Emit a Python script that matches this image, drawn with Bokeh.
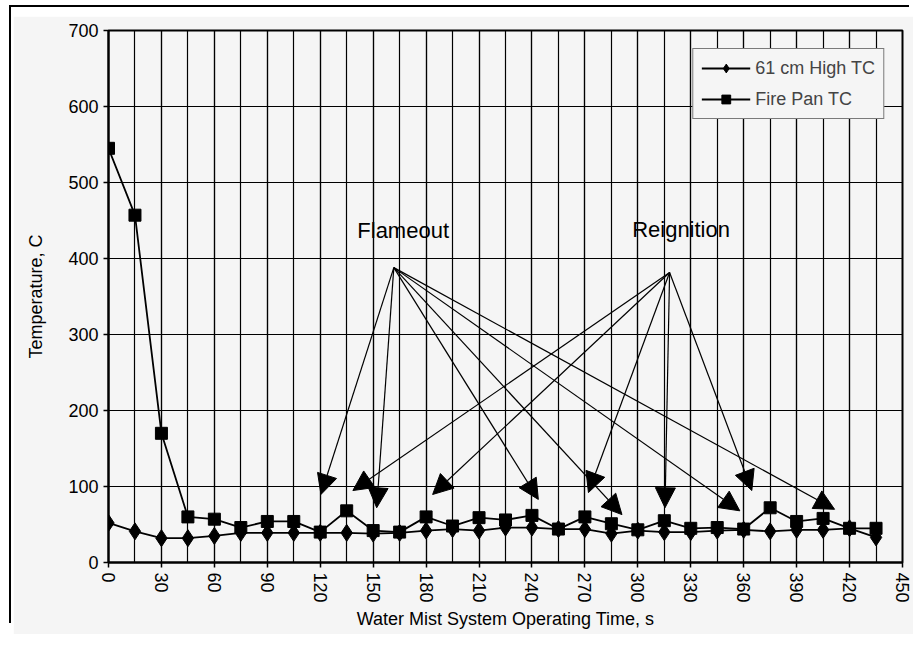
from bokeh.plotting import figure
from bokeh.models import FixedTicker, Arrow, NormalHead, ColumnDataSource, Range1d
from bokeh.embed import file_html
from bokeh.resources import INLINE
from bokeh.core.properties import value

# ---- data ----
time_s = [0, 15, 30, 45, 60, 75, 90, 105, 120, 135, 150, 165, 180, 195, 210,
          225, 240, 255, 270, 285, 300, 315, 330, 345, 360, 375, 390, 405, 420, 435]
high_tc = [52, 41, 32, 32, 35, 39, 39, 39, 39, 39, 38, 39, 42, 44, 42,
           46, 46, 44, 44, 38, 42, 40, 40, 42, 43, 41, 43, 43, 45, 33]
pan_tc = [545, 457, 170, 60, 57, 46, 54, 54, 40, 68, 42, 40, 60, 48, 59,
          56, 62, 44, 60, 51, 43, 55, 45, 46, 44, 72, 54, 58, 45, 45]

x_ticks = [0, 30, 60, 90, 120, 150, 180, 210, 240, 270, 300, 330, 360, 390, 420, 450]
x_minor = [0, 15, 30, 45, 60, 75, 90, 105, 120, 135, 150, 165, 180, 195, 210, 225,
           240, 255, 270, 285, 300, 315, 330, 345, 360, 375, 390, 405, 420, 435, 450]
y_ticks = [0, 100, 200, 300, 400, 500, 600, 700]

note_text = ["Flameout", "Reignition"]
note_x = [167, 324.5]
note_y = [437, 438]

flameout_apex = [161.7, 388]
flameout_tx = [120.4, 152, 243.6, 291, 357.8, 411.5]
flameout_ty = [89.5, 72, 83, 63, 68, 70]
reignition_apex = [318, 381.5]
reignition_tx = [138.5, 183.7, 272, 315.4, 364.6]
reignition_ty = [94.7, 89.5, 92, 72, 94.7]

BG = "#f5f5f5"
FONT = "Liberation Sans"

p = figure(width=900, height=618, x_range=Range1d(0, 450), y_range=Range1d(0, 700),
           output_backend="svg", toolbar_location=None,
           min_border_left=95, min_border_right=11, min_border_top=14, min_border_bottom=72,
           background_fill_color=BG, border_fill_color=BG)
# thin black edge lines of the scanned sheet (top and left), with a white gap
p.styles = {"margin-top": "16px", "margin-left": "13px",
            "box-shadow": "-2px -9px 0 0 white, -4px -11px 0 0 black"}

p.outline_line_color = "black"
p.outline_line_width = 2

p.xaxis.ticker = FixedTicker(ticks=x_ticks, minor_ticks=x_minor)
p.yaxis.ticker = FixedTicker(ticks=y_ticks)

for g in (p.xgrid, p.ygrid):
    g.grid_line_color = "black"
    g.grid_line_width = 1.2
p.xgrid.minor_grid_line_color = "black"
p.xgrid.minor_grid_line_width = 1.2

for ax in (p.xaxis, p.yaxis):
    ax.axis_line_color = "black"
    ax.axis_line_width = 2
    ax.major_tick_line_color = "black"
    ax.major_tick_line_width = 1.5
    ax.major_tick_out = 5
    ax.major_tick_in = 0
    ax.minor_tick_line_color = None
    ax.major_label_text_font = FONT
    ax.major_label_text_font_size = "18px"
    ax.major_label_text_color = "black"
    ax.axis_label_text_font = FONT
    ax.axis_label_text_font_size = "18px"
    ax.axis_label_text_font_style = "normal"
    ax.axis_label_text_color = "black"
    ax.major_label_standoff = 5

p.xaxis.major_label_orientation = "vertical"
p.xaxis.axis_label = "Water Mist System Operating Time, s"
p.xaxis.axis_label_standoff = 3
p.yaxis.axis_label = "Temperature, C"
p.yaxis.axis_label_standoff = 19

# series
p.line(time_s, high_tc, line_color="black", line_width=1.8, legend_label="61 cm High TC")
p.scatter(time_s, high_tc, marker="diamond", size=17, fill_color="black",
          line_color="black", legend_label="61 cm High TC")
p.line(time_s, pan_tc, line_color="black", line_width=1.8, legend_label="Fire Pan TC")
p.scatter(time_s, pan_tc, marker="square", size=12, fill_color="black",
          line_color="black", legend_label="Fire Pan TC")

# annotation arrows
xs = [flameout_apex[0]] * len(flameout_tx) + [reignition_apex[0]] * len(reignition_tx)
ys = [flameout_apex[1]] * len(flameout_tx) + [reignition_apex[1]] * len(reignition_tx)
xe = flameout_tx + reignition_tx
ye = flameout_ty + reignition_ty
arrow_src = ColumnDataSource(dict(xs=xs, ys=ys, xe=xe, ye=ye))
p.add_layout(Arrow(end=NormalHead(size=20, fill_color="black", line_color="black"),
                   x_start="xs", y_start="ys", x_end="xe", y_end="ye",
                   source=arrow_src, line_color="black", line_width=1.2))

p.text(x=note_x, y=note_y, text=note_text, text_font=value(FONT),
       text_font_size=value("22px"), text_align="center", text_baseline="middle",
       text_color="black")

lg = p.legend[0]
lg.location = "top_right"
lg.margin = 18
lg.border_line_color = "black"
lg.border_line_width = 1.5
lg.background_fill_color = BG
lg.background_fill_alpha = 1
lg.label_text_font = FONT
lg.label_text_font_size = "18px"
lg.glyph_width = 49
lg.glyph_height = 22
lg.label_height = 22
lg.spacing = 9
lg.padding = 8
lg.label_standoff = 5

open("out.html", "w").write(file_html(p, INLINE))
